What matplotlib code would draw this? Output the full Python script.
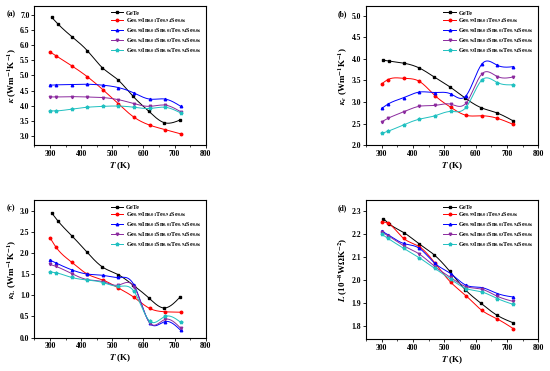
import matplotlib
matplotlib.use("Agg")
import matplotlib.pyplot as plt
from matplotlib.ticker import MultipleLocator
import numpy as np

plt.rcParams['font.family'] = ['Liberation Serif', 'DejaVu Serif']
plt.rcParams['font.weight'] = 'bold'
plt.rcParams['mathtext.fontset'] = 'stix'

# temperatures (K)
T_gete = [305, 325, 372, 420, 468, 518, 567, 617, 667, 718]
T_doped = [300, 320, 370, 420, 470, 520, 570, 620, 670, 720]

labels = ['GeTe',
          r'Ge$_{0.99}$In$_{0.01}$Te$_{0.94}$Se$_{0.06}$',
          r'Ge$_{0.98}$In$_{0.01}$Sn$_{0.01}$Te$_{0.94}$Se$_{0.06}$',
          r'Ge$_{0.96}$In$_{0.01}$Sn$_{0.03}$Te$_{0.94}$Se$_{0.06}$',
          r'Ge$_{0.93}$In$_{0.01}$Sn$_{0.06}$Te$_{0.94}$Se$_{0.06}$']

# (a) total thermal conductivity
kappa = [
    [6.93, 6.71, 6.27, 5.82, 5.26, 4.86, 4.31, 3.82, 3.44, 3.53],
    [5.78, 5.65, 5.32, 4.96, 4.53, 4.06, 3.62, 3.36, 3.21, 3.07],
    [4.68, 4.69, 4.70, 4.71, 4.68, 4.60, 4.42, 4.22, 4.22, 3.98],
    [4.29, 4.29, 4.30, 4.29, 4.27, 4.20, 4.07, 3.98, 4.02, 3.80],
    [3.83, 3.83, 3.89, 3.95, 3.98, 3.99, 3.95, 3.91, 3.95, 3.76],
]
# (b) electronic thermal conductivity
kappa_e = [
    [3.97, 3.95, 3.90, 3.79, 3.58, 3.35, 3.09, 2.87, 2.75, 2.57],
    [3.42, 3.52, 3.55, 3.48, 3.15, 2.88, 2.69, 2.68, 2.62, 2.48],
    [2.85, 2.95, 3.10, 3.23, 3.22, 3.19, 3.15, 3.88, 3.85, 3.82],
    [2.54, 2.62, 2.77, 2.90, 2.92, 2.95, 2.98, 3.65, 3.59, 3.58],
    [2.27, 2.32, 2.47, 2.60, 2.68, 2.78, 2.88, 3.51, 3.45, 3.40],
]
# (c) lattice thermal conductivity
kappa_l = [
    [2.95, 2.76, 2.39, 2.01, 1.67, 1.49, 1.24, 0.94, 0.70, 0.96],
    [2.36, 2.13, 1.78, 1.50, 1.36, 1.17, 0.95, 0.69, 0.61, 0.60],
    [1.83, 1.76, 1.60, 1.50, 1.47, 1.42, 1.24, 0.35, 0.38, 0.17],
    [1.73, 1.68, 1.51, 1.37, 1.32, 1.24, 1.20, 0.35, 0.43, 0.22],
    [1.55, 1.53, 1.42, 1.36, 1.30, 1.21, 1.09, 0.39, 0.50, 0.36],
]
# (d) Lorenz number
lorenz = [
    [2.269, 2.245, 2.207, 2.159, 2.111, 2.039, 1.960, 1.901, 1.850, 1.817],
    [2.255, 2.249, 2.183, 2.147, 2.076, 1.993, 1.933, 1.870, 1.832, 1.791],
    [2.215, 2.199, 2.161, 2.140, 2.074, 2.030, 1.979, 1.969, 1.943, 1.928],
    [2.210, 2.195, 2.151, 2.115, 2.060, 2.013, 1.973, 1.962, 1.931, 1.909],
    [2.201, 2.183, 2.140, 2.099, 2.052, 2.006, 1.965, 1.950, 1.921, 1.896],
]

colors = ['black', '#ff0000', '#0000ff', '#8b2a9e', '#20c0c0']
markers = ['s', 'o', '^', 'v', '*']


def spline_line(x, y, n=300):
    # natural cubic spline through the points, for drawing only
    x = np.asarray(x, float)
    y = np.asarray(y, float)
    m = len(x)
    h = np.diff(x)
    A = np.zeros((m, m))
    b = np.zeros(m)
    A[0, 0] = A[-1, -1] = 1
    for i in range(1, m - 1):
        A[i, i - 1] = h[i - 1]
        A[i, i] = 2 * (h[i - 1] + h[i])
        A[i, i + 1] = h[i]
        b[i] = 6 * ((y[i + 1] - y[i]) / h[i] - (y[i] - y[i - 1]) / h[i - 1])
    M = np.linalg.solve(A, b)
    xs = np.linspace(x[0], x[-1], n)
    idx = np.clip(np.searchsorted(x, xs) - 1, 0, m - 2)
    x0, x1 = x[idx], x[idx + 1]
    hh = x1 - x0
    t0, t1 = x1 - xs, xs - x0
    ys = (M[idx] * t0 ** 3 + M[idx + 1] * t1 ** 3) / (6 * hh) \
        + (y[idx] / hh - M[idx] * hh / 6) * t0 \
        + (y[idx + 1] / hh - M[idx + 1] * hh / 6) * t1
    return xs, ys


fig = plt.figure(figsize=(5.5, 3.71), dpi=100)

panels = [
    ([0.0625, 0.609, 0.3115, 0.375], kappa, (2.7, 7.3), np.arange(3.0, 7.01, 0.5),
     r'$\kappa$ (Wm$^{-1}$K$^{-1}$)', '(a)'),
    ([0.6655, 0.609, 0.313, 0.375], kappa_e, (2.0, 5.23), np.arange(2.0, 5.01, 0.5),
     r'$\kappa_e$ (Wm$^{-1}$K$^{-1}$)', '(b)'),
    ([0.0625, 0.090, 0.3115, 0.371], kappa_l, (0.0, 3.25), np.arange(0.0, 3.01, 0.5),
     r'$\kappa_{\rm L}$ (Wm$^{-1}$K$^{-1}$)', '(c)'),
    ([0.6655, 0.086, 0.313, 0.375], lorenz, (1.745, 2.35), np.arange(1.8, 2.31, 0.1),
     r'$L$ (10$^{-8}$W$\Omega$K$^{-2}$)', '(d)'),
]

for rect, series, ylim, yticks, ylabel, tag in panels:
    ax = fig.add_axes(rect)
    for i, ys in enumerate(series):
        xs = T_gete if i == 0 else T_doped
        ms = 2.6 if markers[i] == '*' else 1.8
        sx, sy = spline_line(xs, ys)
        ax.plot(sx, sy, color=colors[i], lw=0.7)
        ax.plot(xs, ys, linestyle='none', marker=markers[i], color=colors[i],
                markersize=ms)
        ax.plot([], [], color=colors[i], lw=0.7, marker=markers[i],
                markersize=ms, label=labels[i])
    ax.set_xlim(250, 800)
    ax.set_ylim(*ylim)
    ax.set_xticks([300, 400, 500, 600, 700, 800])
    ax.xaxis.set_minor_locator(MultipleLocator(50))
    ax.set_yticks(yticks)
    ax.set_yticklabels(['%.1f' % v for v in yticks])
    ax.tick_params(labelsize=5.5, length=2.5, width=0.6, pad=1)
    ax.tick_params(which='minor', length=1.5, width=0.5)
    for s in ax.spines.values():
        s.set_linewidth(0.8)
    ax.set_xlabel(r'$T$ (K)', fontsize=6.5, fontweight='bold', labelpad=1.5)
    ax.set_ylabel(ylabel, fontsize=6.5, fontweight='bold', labelpad=1)
    ax.legend(loc='upper right', fontsize=4.5, frameon=False, handlelength=2.0,
              handletextpad=0.4, labelspacing=0.25, borderaxespad=0.3,
              borderpad=0.4)
    bb = ax.get_position()
    fig.text(bb.x0 - 0.051, bb.y1 - 0.021, tag, fontsize=5.5, fontweight='bold',
             ha='left', va='center')

fig.savefig('out.png', dpi=100)
